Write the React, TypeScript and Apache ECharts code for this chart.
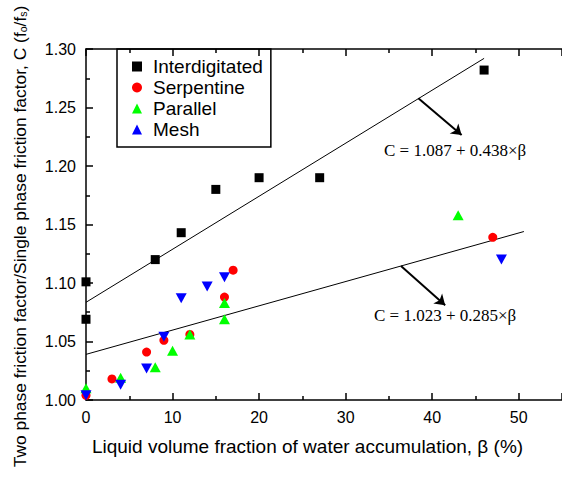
import React, { useEffect, useRef } from "react";
import * as echarts from "echarts";

const interdigitated: [number, number][] = [
  [0, 1.069], [0, 1.101], [8, 1.12], [11, 1.143], [15, 1.18], [20, 1.19], [27, 1.19], [46, 1.282],
];
const serpentine: [number, number][] = [
  [0, 1.004], [3, 1.018], [7, 1.041], [9, 1.051], [12, 1.056], [16, 1.088], [17, 1.111], [47, 1.139],
];
const parallel: [number, number][] = [
  [0, 1.01], [4, 1.019], [8, 1.028], [10, 1.042], [12, 1.056], [16, 1.069], [16, 1.083], [43, 1.158],
];
const mesh: [number, number][] = [
  [0, 1.004], [4, 1.013], [7, 1.027], [9, 1.054], [11, 1.087], [14, 1.097], [16, 1.105], [48, 1.12],
];
const fitUpper: [number, number][] = [[0, 1.0835], [46, 1.292]];
const fitLower: [number, number][] = [[0, 1.039], [50.6, 1.144]];
const arrowUpper: [number, number][] = [[38.4, 1.258], [43.4, 1.2265]];
const arrowLower: [number, number][] = [[36.4, 1.1145], [41.5, 1.081]];
const eqUpper = "C = 1.087 + 0.438\u00d7\u03b2";
const eqLower = "C = 1.023 + 0.285\u00d7\u03b2";
const xTitle = "Liquid volume fraction of water accumulation, \u03b2 (%)";
const yTitle = "Two phase friction factor/Single phase friction factor, C (f{s|o}/f{s|s})";

const SANS = "Liberation Sans, Arial, sans-serif";
const SERIF = "Liberation Serif, Times New Roman, serif";

export default function App() {
  const ref = useRef<HTMLDivElement>(null);
  useEffect(() => {
    if (!ref.current) return;
    const chart = echarts.init(ref.current, null, { renderer: "svg" });
    const axisLine = { show: true, onZero: false, lineStyle: { color: "#000", width: 1.5 } };
    const xCommon = {
      type: "value" as const,
      min: 0,
      max: 55,
      interval: 10,
      axisLine,
      axisTick: { show: true, inside: true, length: 7, lineStyle: { color: "#000", width: 1.5 } },
      minorTick: { show: true, splitNumber: 2, length: 4, lineStyle: { color: "#000", width: 1.5 } },
      splitLine: { show: false },
      minorSplitLine: { show: false },
    };
    chart.setOption({
      animation: false,
      grid: { left: 86, right: 0, top: 49, bottom: 81, containLabel: false, outerBoundsMode: "none" },
      xAxis: [
        {
          ...xCommon,
          position: "bottom",
          axisLabel: { color: "#000", fontSize: 16, fontFamily: SANS, margin: 9,
            formatter: (v: number) => (v > 50 ? "" : String(v)) },
          name: xTitle,
          nameLocation: "middle",
          nameGap: 37,
          nameTextStyle: { color: "#000", fontSize: 19, fontFamily: SANS, padding: [0, 33, 0, 0] },
        },
        {
          ...xCommon,
          position: "top",
          axisLabel: { show: false },
        },
      ],
      yAxis: {
        type: "value",
        min: 1.0,
        max: 1.3,
        interval: 0.05,
        axisLine,
        axisTick: { show: true, inside: true, length: 7, lineStyle: { color: "#000", width: 1.5 } },
        minorTick: { show: true, splitNumber: 2, length: 4, lineStyle: { color: "#000", width: 1.5 } },
        splitLine: { show: false },
        axisLabel: { color: "#000", fontSize: 16, fontFamily: SANS, margin: 10,
          formatter: (v: number) => v.toFixed(2) },
        name: yTitle,
        nameLocation: "middle",
        nameGap: 58,
        nameTextStyle: {
          color: "#000", fontSize: 17.4, fontFamily: SANS, padding: [0, 24, 0, 0],
          rich: { s: { fontSize: 10.5, fontFamily: SANS, color: "#000", verticalAlign: "bottom" } },
        },
      },
      legend: {
        data: ["Interdigitated", "Serpentine", "Parallel", "Mesh"],
        orient: "vertical",
        left: 117,
        top: 49,
        itemWidth: 10,
        itemHeight: 10,
        itemGap: 2,
        symbolKeepAspect: true,
        padding: [8, 8, 8, 15],
        borderColor: "#000",
        borderWidth: 1.5,
        textStyle: { color: "#000", fontSize: 19, fontFamily: SANS, padding: [0, 0, 0, 6] },
      },
      graphic: [
        { type: "text", left: 384, top: 142, style: { text: eqUpper, font: `17px ${SERIF}`, fill: "#000" } },
        { type: "text", left: 374, top: 307, style: { text: eqLower, font: `17px ${SERIF}`, fill: "#000" } },
      ],
      series: [
        { type: "line", data: fitUpper, showSymbol: false, lineStyle: { color: "#000", width: 1 }, silent: true, z: 1 },
        { type: "line", data: fitLower, showSymbol: false, lineStyle: { color: "#000", width: 1 }, silent: true, z: 1 },
        {
          type: "lines", coordinateSystem: "cartesian2d", symbol: ["none", "arrow"], symbolSize: 10,
          lineStyle: { color: "#000", width: 2, opacity: 1 },
          data: [{ coords: arrowUpper }, { coords: arrowLower }], z: 1,
        },
        { name: "Interdigitated", type: "scatter", data: interdigitated, symbol: "rect", symbolSize: 9,
          symbolKeepAspect: true, itemStyle: { color: "#000", opacity: 1 } },
        { name: "Serpentine", type: "scatter", data: serpentine, symbol: "circle", symbolSize: 9,
          symbolKeepAspect: true, itemStyle: { color: "#ff0000", opacity: 1 } },
        { name: "Parallel", type: "scatter", data: parallel, symbol: "triangle", symbolSize: [11, 10],
          itemStyle: { color: "#00ff00", opacity: 1 } },
        { name: "Mesh", type: "scatter", data: mesh, symbol: "triangle", symbolRotate: 180, symbolSize: [11, 10],
          itemStyle: { color: "#0000ff", opacity: 1 } },
      ],
    });
    return () => chart.dispose();
  }, []);
  return <div ref={ref} style={{ width: 562, height: 481, position: "absolute", left: 0, top: 0 }} />;
}
